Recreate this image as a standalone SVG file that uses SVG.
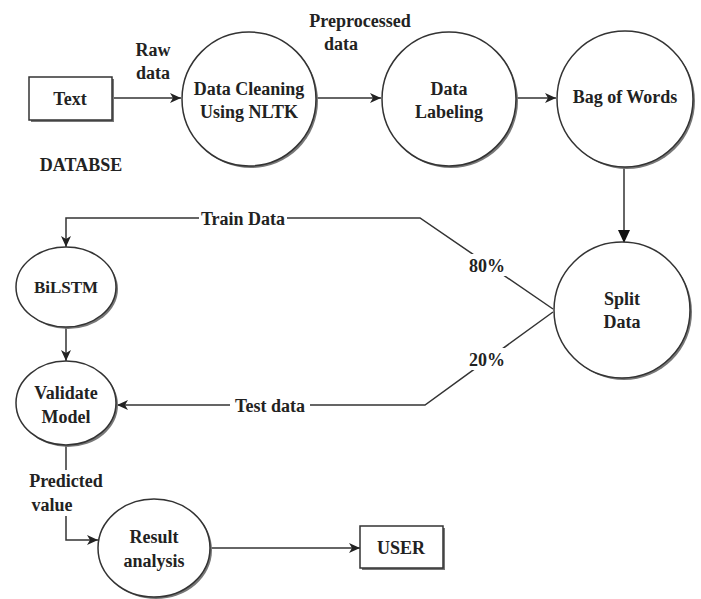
<svg xmlns="http://www.w3.org/2000/svg" width="701" height="599" viewBox="0 0 701 599">
<style>
text{font-family:"Liberation Serif","Times New Roman",serif;font-weight:bold;font-size:18px;fill:#222;text-anchor:middle}
.shape{fill:#fff;stroke:#333;stroke-width:1.5}
.shadow{fill:#777;stroke:none}
.line{fill:none;stroke:#333;stroke-width:1.5}
.bg{fill:#fff;stroke:none}
</style>
<defs>
<marker id="arr" markerWidth="12" markerHeight="10" refX="11" refY="5" orient="auto" markerUnits="userSpaceOnUse">
<path d="M0,0 L11,5 L0,10 L3,5 z" fill="#222"/>
</marker>
<marker id="tri" markerWidth="14" markerHeight="12" refX="13" refY="6" orient="auto" markerUnits="userSpaceOnUse">
<path d="M0,0 L13,6 L0,12 z" fill="#111"/>
</marker>
</defs>
<rect width="701" height="599" fill="#fff"/>
<g id="connectors">
<line class="line" x1="112" y1="98" x2="181" y2="98" marker-end="url(#arr)"/>
<line class="line" x1="316" y1="98" x2="381" y2="98" marker-end="url(#arr)"/>
<line class="line" x1="516" y1="98" x2="556" y2="98" marker-end="url(#arr)"/>
<line class="line" x1="624" y1="166" x2="624" y2="243" marker-end="url(#tri)"/>
<polyline class="line" points="553,309 420,218 66,218 66,247" marker-end="url(#arr)"/>
<polyline class="line" points="553,312 425,405 117,405" marker-end="url(#arr)"/>
<line class="line" x1="66" y1="328" x2="66" y2="361" marker-end="url(#arr)"/>
<polyline class="line" points="66,445 66,540 98,540" marker-end="url(#arr)"/>
<line class="line" x1="210" y1="548" x2="360" y2="548" marker-end="url(#arr)"/>
<rect class="bg" x="199" y="208" width="88" height="20"/>
<text x="243" y="225">Train Data</text>
<rect class="bg" x="230" y="395" width="80" height="20"/>
<text x="270" y="412">Test data</text>
<rect class="bg" x="466" y="254" width="42" height="22"/>
<text x="487" y="272">80%</text>
<rect class="bg" x="466" y="348" width="42" height="22"/>
<text x="487" y="366">20%</text>
<rect class="bg" x="24" y="470" width="84" height="46"/>
<text x="66" y="487">Predicted</text>
<text x="52" y="511">value</text>
<text x="153" y="56">Raw</text>
<text x="153" y="79">data</text>
<text x="360" y="27">Preprocessed</text>
<text x="341" y="50">data</text>
</g>
<g id="text-db">
<rect class="shadow" x="31" y="79" width="83" height="43"/>
<rect class="shape" x="29" y="77" width="83" height="43"/>
<text x="70" y="105">Text</text>
</g>
<text x="81" y="171">DATABSE</text>
<g id="data-cleaning">
<circle class="shadow" cx="251" cy="101" r="67"/>
<circle class="shape" cx="249" cy="99" r="67"/>
<text x="249" y="95">Data Cleaning</text>
<text x="249" y="118">Using NLTK</text>
</g>
<g id="data-labeling">
<circle class="shadow" cx="451" cy="101" r="67"/>
<circle class="shape" cx="449" cy="99" r="67"/>
<text x="449" y="95">Data</text>
<text x="449" y="118">Labeling</text>
</g>
<g id="bag-of-words">
<circle class="shadow" cx="627" cy="101" r="68"/>
<circle class="shape" cx="625" cy="99" r="68"/>
<text x="625" y="103">Bag of Words</text>
</g>
<g id="split-data">
<circle class="shadow" cx="624" cy="312" r="68"/>
<circle class="shape" cx="622" cy="310" r="68"/>
<text x="622" y="305">Split</text>
<text x="622" y="328">Data</text>
</g>
<g id="bilstm">
<ellipse class="shadow" cx="68" cy="289" rx="50" ry="40"/>
<ellipse class="shape" cx="66" cy="287" rx="50" ry="40"/>
<text x="66" y="293" style="font-size:17px">BiLSTM</text>
</g>
<g id="validate-model">
<ellipse class="shadow" cx="68" cy="405" rx="50" ry="42"/>
<ellipse class="shape" cx="66" cy="403" rx="50" ry="42"/>
<text x="66" y="399">Validate</text>
<text x="66" y="423">Model</text>
</g>
<g id="result-analysis">
<ellipse class="shadow" cx="156" cy="550" rx="56" ry="49"/>
<ellipse class="shape" cx="154" cy="548" rx="56" ry="49"/>
<text x="154" y="543">Result</text>
<text x="154" y="567">analysis</text>
</g>
<g id="user">
<rect class="shadow" x="362" y="528" width="83" height="42"/>
<rect class="shape" x="360" y="526" width="83" height="42"/>
<text x="401" y="554">USER</text>
</g>
</svg>
